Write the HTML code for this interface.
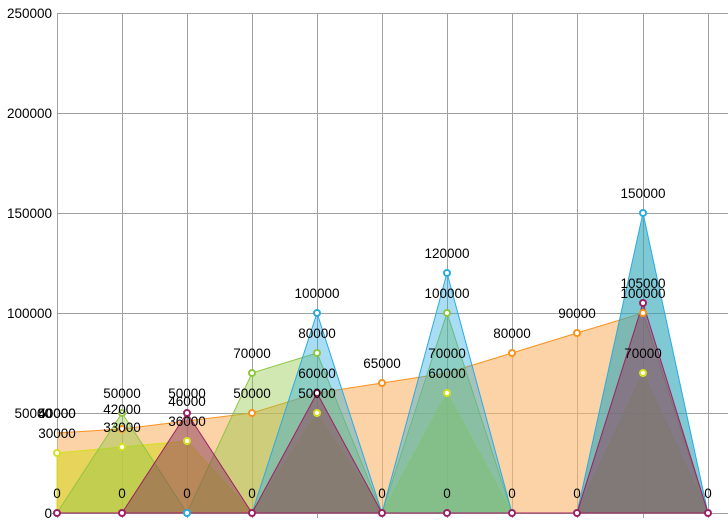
<!DOCTYPE html>
<html><head><meta charset="utf-8"><style>
body{margin:0;background:#fff}
svg text{font-family:"Liberation Sans",Arial,sans-serif;font-size:13.5px;fill:#000}
</style></head><body>
<svg width="728" height="526" viewBox="0 0 728 526" xmlns="http://www.w3.org/2000/svg">
<g stroke="#a0a0a0" stroke-width="1">
<line x1="57" y1="13.5" x2="728" y2="13.5"/>
<line x1="57" y1="113.5" x2="728" y2="113.5"/>
<line x1="57" y1="213.5" x2="728" y2="213.5"/>
<line x1="57" y1="313.5" x2="728" y2="313.5"/>
<line x1="57" y1="413.5" x2="728" y2="413.5"/>
<line x1="52" y1="513.5" x2="728" y2="513.5"/>
<line x1="57.5" y1="13" x2="57.5" y2="518"/>
<line x1="122.5" y1="13" x2="122.5" y2="518"/>
<line x1="187.5" y1="13" x2="187.5" y2="518"/>
<line x1="252.5" y1="13" x2="252.5" y2="518"/>
<line x1="317.5" y1="13" x2="317.5" y2="518"/>
<line x1="382.5" y1="13" x2="382.5" y2="518"/>
<line x1="447.5" y1="13" x2="447.5" y2="518"/>
<line x1="512.5" y1="13" x2="512.5" y2="518"/>
<line x1="577.5" y1="13" x2="577.5" y2="518"/>
<line x1="643.5" y1="13" x2="643.5" y2="518"/>
<line x1="708.5" y1="13" x2="708.5" y2="518"/>
</g>
<g text-anchor="end">
<text x="52" y="18">250000</text><text x="52" y="118">200000</text><text x="52" y="218">150000</text>
<text x="52" y="318">100000</text><text x="52" y="418">50000</text><text x="52" y="518">0</text>
</g>
<polygon points="57,513 57,433 122,429 187,421 252,413 317,393 382,383 447,373 512,353 577,333 643,313 708,513" fill="#f9b56a" fill-opacity="0.6" stroke="none"/>
<polyline points="57,433 122,429 187,421 252,413 317,393 382,383 447,373 512,353 577,333 643,313 708,513" fill="none" stroke="#f7931e"/>
<polygon points="57,513 57,453 122,447 187,441 252,513 317,413 382,513 447,393 512,513 577,513 643,373 708,513" fill="#d9d52a" fill-opacity="0.6" stroke="#d4e021"/>
<polygon points="57,513 122,413 187,513 252,373 317,353 382,513 447,313 512,513 577,513 643,513 708,513" fill="#8dc63f" fill-opacity="0.4" stroke="#8dc63f"/>
<polygon points="577,513 643,213 708,513" fill="#3aa070" fill-opacity="0.35" stroke="none"/>
<polygon points="57,513 122,513 187,513 252,513 317,313 382,513 447,273 512,513 577,513 643,213 708,513" fill="#29abe2" fill-opacity="0.4" stroke="#29abe2"/>
<polygon points="57,513 122,513 187,413 252,513 317,393 382,513 447,513 512,513 577,513 643,303 708,513" fill="#8a3a5a" fill-opacity="0.5" stroke="#9e1f63"/>
<g fill="#fff" stroke-width="2">
<g stroke="#f7931e"><circle cx="122" cy="429" r="3"/><circle cx="252" cy="413" r="3"/><circle cx="382" cy="383" r="3"/><circle cx="512" cy="353" r="3"/><circle cx="577" cy="333" r="3"/><circle cx="643" cy="313" r="3"/></g>
<g stroke="#d4e021"><circle cx="57" cy="453" r="3"/><circle cx="122" cy="447" r="3"/><circle cx="187" cy="441" r="3"/><circle cx="317" cy="413" r="3"/><circle cx="447" cy="393" r="3"/><circle cx="643" cy="373" r="3"/></g>
<g stroke="#8dc63f"><circle cx="122" cy="413" r="3"/><circle cx="252" cy="373" r="3"/><circle cx="317" cy="353" r="3"/><circle cx="447" cy="313" r="3"/></g>
<g stroke="#29abe2"><circle cx="187" cy="513" r="3"/><circle cx="317" cy="313" r="3"/><circle cx="447" cy="273" r="3"/><circle cx="643" cy="213" r="3"/></g>
<g stroke="#9e1f63"><circle cx="57" cy="513" r="3"/><circle cx="122" cy="513" r="3"/><circle cx="187" cy="413" r="3"/><circle cx="252" cy="513" r="3"/><circle cx="317" cy="393" r="3"/><circle cx="382" cy="513" r="3"/><circle cx="447" cy="513" r="3"/><circle cx="512" cy="513" r="3"/><circle cx="577" cy="513" r="3"/><circle cx="643" cy="303" r="3"/><circle cx="708" cy="513" r="3"/></g>
</g>
<g text-anchor="middle">
<text x="57" y="418">50000</text><text x="57" y="418">40000</text><text x="57" y="438">30000</text>
<text x="122" y="398">50000</text><text x="122" y="414">42000</text><text x="122" y="432">33000</text>
<text x="187" y="398">50000</text><text x="187" y="406">46000</text><text x="187" y="426">36000</text>
<text x="252" y="358">70000</text><text x="252" y="398">50000</text>
<text x="317" y="298">100000</text><text x="317" y="338">80000</text><text x="317" y="378">60000</text><text x="317" y="398">50000</text>
<text x="382" y="368">65000</text>
<text x="447" y="258">120000</text><text x="447" y="298">100000</text><text x="447" y="358">70000</text><text x="447" y="378">60000</text>
<text x="512" y="338">80000</text><text x="577" y="318">90000</text>
<text x="643" y="198">150000</text><text x="643" y="288">105000</text><text x="643" y="298">100000</text><text x="643" y="358">70000</text>
<text x="57" y="498">0</text><text x="122" y="498">0</text><text x="187" y="498">0</text><text x="252" y="498">0</text><text x="382" y="498">0</text><text x="447" y="498">0</text><text x="512" y="498">0</text><text x="577" y="498">0</text><text x="708" y="498">0</text>
</g>
</svg>
</body></html>
